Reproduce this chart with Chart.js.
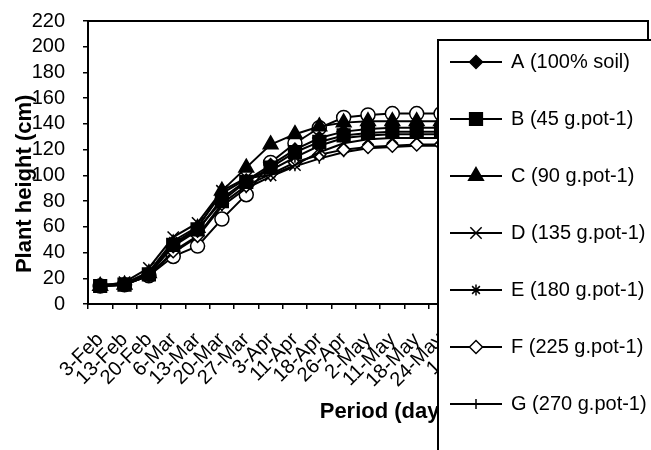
<!DOCTYPE html>
<html>
<head>
<meta charset="utf-8">
<script src="https://cdn.jsdelivr.net/npm/chart.js@4.4.1/dist/chart.umd.min.js"></script>
<style>
  html, body { margin: 0; padding: 0; background: #fff; overflow: hidden; }
  #wrap { position: relative; width: 651px; height: 450px; }
</style>
</head>
<body>
<div id="wrap"><canvas id="line-chart"></canvas></div>
<script>
// sampling dates
const dates = [
  "3-Feb", "13-Feb", "20-Feb", "6-Mar", "13-Mar", "20-Mar", "27-Mar", "3-Apr",
  "11-Apr", "18-Apr", "26-Apr", "2-May", "11-May", "18-May", "24-May", "1-Jun",
  "8-Jun", "15-Jun", "22-Jun", "29-Jun", "6-Jul", "13-Jul", "20-Jul",
];

// plant height (cm) for each treatment
const heightA = [15, 15, 23, 45, 57, 82, 96, 108, 120, 129, 134, 136, 137, 137, 137, 137, 137, 137, 137, 137, 137, 137, 137];
const heightB = [14, 15, 23, 46, 58, 80, 95, 106, 118, 126, 131, 133, 134, 134, 134, 134, 134, 134, 134, 134, 134, 134, 134];
const heightC = [14, 15, 24, 47, 59, 88, 106, 124, 132, 138, 141, 142, 142, 142, 142, 142, 142, 142, 142, 142, 142, 142, 142];
const heightD = [14, 17, 28, 52, 63, 88, 98, 100, 108, 118, 125, 128, 129, 129, 129, 129, 129, 129, 129, 129, 129, 129, 129];
const heightE = [15, 16, 25, 49, 60, 86, 97, 104, 114, 123, 129, 131, 132, 132, 132, 132, 132, 132, 132, 132, 132, 132, 132];
const heightF = [14, 15, 22, 41, 53, 78, 92, 101, 110, 116, 120, 122, 123, 124, 124, 124, 124, 124, 124, 124, 124, 124, 124];
const heightG = [14, 15, 22, 40, 52, 76, 90, 99, 107, 113, 118, 121, 122, 123, 123, 123, 123, 123, 123, 123, 123, 123, 123];
const heightH = [14, 15, 22, 37, 45, 66, 85, 110, 125, 137, 145, 147, 148, 148, 148, 148, 148, 148, 148, 148, 148, 148, 148];

const treatments = [
  "A (100% soil)", "B (45 g.pot-1)", "C (90 g.pot-1)", "D (135 g.pot-1)",
  "E (180 g.pot-1)", "F (225 g.pot-1)", "G (270 g.pot-1)", "H (315 g.pot-1)",
];

const FONT = "'Liberation Sans', Arial, sans-serif";
Chart.defaults.font.family = FONT;
Chart.defaults.font.size = 20;
Chart.defaults.color = "#000";

function series(label, data, style, radius, fill) {
  return {
    label: label,
    data: data,
    borderColor: "#000",
    borderWidth: 2,
    pointStyle: style,
    pointRadius: radius,
    pointHoverRadius: radius,
    pointBackgroundColor: fill,
    pointBorderColor: "#000",
    pointBorderWidth: 1.5,
    tension: 0,
  };
}

// outline round the plot area, like the excel plot border
const plotFrame = {
  id: "plotFrame",
  afterDatasetsDraw(chart) {
    const { ctx, chartArea: a } = chart;
    ctx.save();
    ctx.strokeStyle = "#000";
    ctx.lineWidth = 2;
    ctx.strokeRect(a.left, a.top, a.right - a.left, a.bottom - a.top);
    ctx.restore();
  },
};

// boxed legend sitting over the right part of the plot
const boxLegend = {
  id: "boxLegend",
  afterDraw(chart, args, opts) {
    const ctx = chart.ctx;
    ctx.save();
    ctx.fillStyle = "#fff";
    ctx.fillRect(opts.left, opts.top, opts.width, opts.height);
    ctx.strokeStyle = "#000";
    ctx.lineWidth = 2;
    ctx.strokeRect(opts.left, opts.top, opts.width, opts.height);
    ctx.font = "20px " + FONT;
    ctx.textBaseline = "middle";
    chart.data.datasets.forEach((ds, i) => {
      const y = opts.top + opts.firstRow + i * opts.rowGap;
      const x0 = opts.left + 12;
      ctx.strokeStyle = "#000";
      ctx.lineWidth = 2;
      ctx.beginPath();
      ctx.moveTo(x0, y);
      ctx.lineTo(x0 + 52, y);
      ctx.stroke();
      ctx.lineWidth = 1.5;
      ctx.fillStyle = ds.pointBackgroundColor;
      Chart.helpers.drawPoint(ctx, { pointStyle: ds.pointStyle, radius: ds.pointRadius, rotation: 0, borderWidth: 1.5 }, x0 + 26, y);
      ctx.fillStyle = "#000";
      ctx.fillText(ds.label, x0 + 61, y);
    });
    ctx.restore();
  },
};

let config = {
  type: "line",
  data: {
    labels: dates,
    datasets: [
      series(treatments[0], heightA, "rectRot", 6.5, "#000"),
      series(treatments[1], heightB, "rect", 9, "#000"),
      series(treatments[2], heightC, "triangle", 8.5, "#000"),
      series(treatments[3], heightD, "crossRot", 8, "#000"),
      series(treatments[4], heightE, "star", 5.5, "#000"),
      series(treatments[5], heightF, "rectRot", 6.5, "#fff"),
      series(treatments[6], heightG, "cross", 5, "#000"),
      series(treatments[7], heightH, "circle", 7, "#fff"),
    ],
  },
  options: {
    responsive: true,
    maintainAspectRatio: false,
    animation: false,
    layout: {
      autoPadding: false,
      padding: { top: 21, right: 3, left: 0, bottom: 0 },
    },
    plugins: {
      legend: { display: false },
      tooltip: { enabled: false },
      boxLegend: { left: 438, top: 40, width: 240, height: 440, firstRow: 22, rowGap: 57 },
    },
    scales: {
      x: {
        offset: true,
        grid: {
          offset: true,
          drawOnChartArea: false,
          drawTicks: true,
          tickLength: 5,
          color: "#000",
          lineWidth: 1.5,
        },
        border: { display: true, color: "#000", width: 2 },
        ticks: {
          autoSkip: false,
          minRotation: 45,
          maxRotation: 45,
          padding: 19,
          font: { size: 20 },
        },
        title: {
          display: true,
          text: "       Period (days)",
          font: { size: 22, weight: "bold" },
          padding: { top: 0, bottom: 25 },
        },
        afterFit(scale) {
          scale.height = 146;
          scale.paddingLeft = 0;
          scale.paddingRight = 0;
        },
      },
      y: {
        min: 0,
        max: 220,
        ticks: { stepSize: 20, autoSkip: false, padding: 18, font: { size: 20 } },
        grid: {
          drawOnChartArea: false,
          drawTicks: true,
          tickLength: 5,
          color: "#000",
          lineWidth: 1.5,
        },
        border: { display: true, color: "#000", width: 2 },
        title: {
          display: true,
          text: "Plant height (cm)       ",
          font: { size: 22, weight: "bold" },
          padding: { top: 12, bottom: 0 },
        },
        afterFit(scale) {
          scale.width = 88;
          scale.paddingTop = 0;
          scale.paddingBottom = 0;
        },
      },
    },
  },
  plugins: [plotFrame, boxLegend],
};

// draw chart
var chart = new Chart(document.getElementById("line-chart"), config);
</script>
</body>
</html>
